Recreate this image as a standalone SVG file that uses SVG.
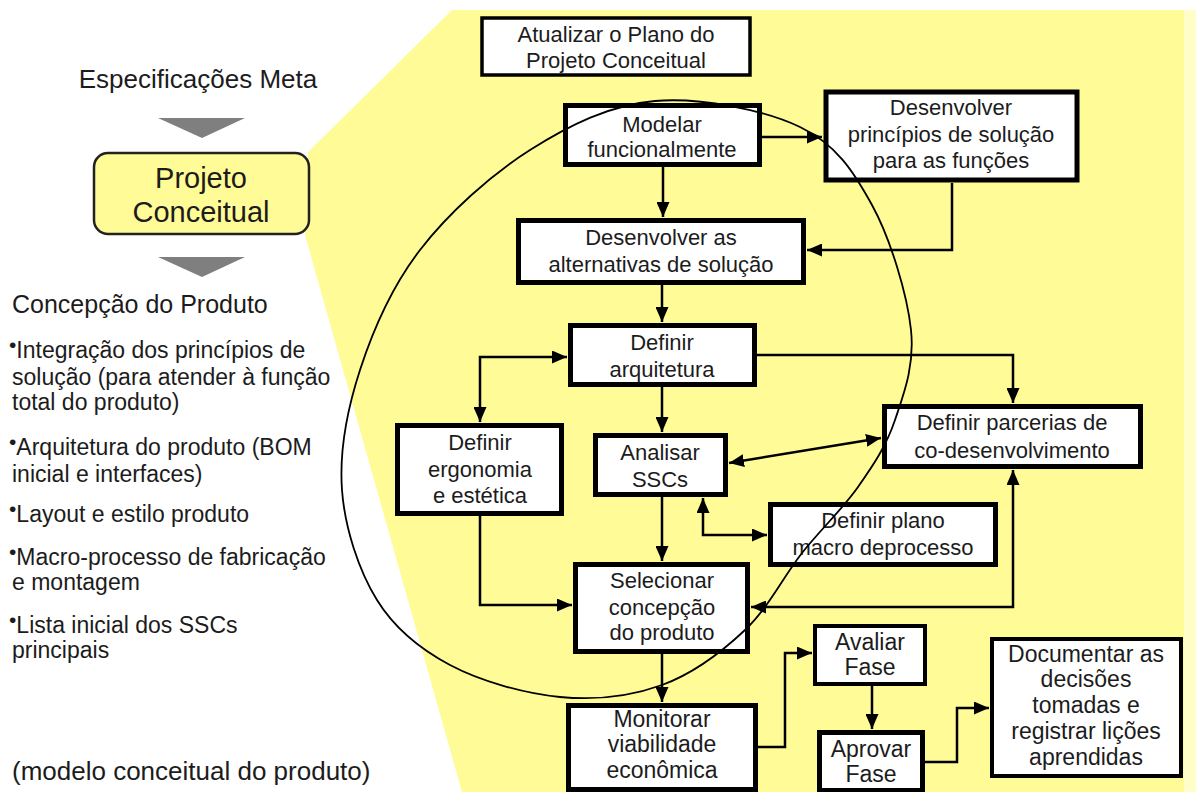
<svg xmlns="http://www.w3.org/2000/svg" width="1198" height="792" viewBox="0 0 1198 792">
  <style>
    text { font-family: "Liberation Sans", Arial, sans-serif; fill: #1c1c1c; }
    .bx { fill: #ffffff; stroke: #000000; stroke-width: 5; }
    .bx4 { fill: #ffffff; stroke: #000000; stroke-width: 4; }
    .t { font-size: 22px; text-anchor: middle; }
    .tb { font-size: 23px; text-anchor: middle; }
    .lft { font-size: 23px; }
    .bul { font-size: 21px; }
    .cn { fill: none; stroke: #000000; stroke-width: 2.5; }
    .tri { fill: #7f7f7f; }
  </style>
  <defs>
    <marker id="arr" markerUnits="userSpaceOnUse" markerWidth="15" markerHeight="13" refX="15" refY="6.5" orient="auto-start-reverse">
      <path d="M0,0 L15,6.5 L0,13 z" fill="#000000"/>
    </marker>
  </defs>

  <rect width="1198" height="792" fill="#ffffff"/>

  <!-- yellow band fanning out from the phase box -->
  <polygon points="452,10 1184,10 1184,792 462,792 305,235 308,152" fill="#fffb96"/>
  <rect x="1184" y="10" width="12" height="782" fill="#fffdc8"/>

  <!-- left column -->
  <g id="spec">
    <text x="198" y="88" font-size="26" text-anchor="middle">Especificações Meta</text>
  </g>
  <polygon class="tri" points="158,118 245,118 202,138"/>
  <g id="phase">
    <rect x="94" y="153" width="215" height="81" rx="14" fill="#fffb96" stroke="#222222" stroke-width="2.5"/>
    <text x="201" y="188" font-size="29" text-anchor="middle">Projeto</text>
    <text x="201" y="222" font-size="29" text-anchor="middle">Conceitual</text>
  </g>
  <polygon class="tri" points="158,257 245,257 202,277"/>
  <g id="outputs">
    <text x="12" y="313" font-size="25">Concepção do Produto</text>
    <text class="lft" x="9" y="358"><tspan class="bul" dy="-6">•</tspan><tspan dy="6">Integração dos princípios de</tspan></text>
    <text class="lft" x="12" y="385">solução (para atender à função</text>
    <text class="lft" x="12" y="410">total do produto)</text>
    <text class="lft" x="9" y="455"><tspan class="bul" dy="-6">•</tspan><tspan dy="6">Arquitetura do produto (BOM</tspan></text>
    <text class="lft" x="12" y="482">inicial e interfaces)</text>
    <text class="lft" x="9" y="522"><tspan class="bul" dy="-6">•</tspan><tspan dy="6">Layout e estilo produto</tspan></text>
    <text class="lft" x="9" y="565"><tspan class="bul" dy="-6">•</tspan><tspan dy="6">Macro-processo de fabricação</tspan></text>
    <text class="lft" x="12" y="590">e montagem</text>
    <text class="lft" x="9" y="633"><tspan class="bul" dy="-6">•</tspan><tspan dy="6">Lista inicial dos SSCs</tspan></text>
    <text class="lft" x="12" y="658">principais</text>
    <text x="12" y="780" font-size="26">(modelo conceitual do produto)</text>
  </g>

  <!-- connectors -->
  <g id="connectors">
    <path class="cn" d="M762,137 H822" marker-end="url(#arr)"/>
    <path class="cn" d="M663,167 V217" marker-end="url(#arr)"/>
    <path class="cn" d="M952,183 V250 H807" marker-end="url(#arr)"/>
    <path class="cn" d="M662,285 V322" marker-end="url(#arr)"/>
    <path class="cn" d="M567,357 H480 V422" marker-start="url(#arr)" marker-end="url(#arr)"/>
    <path class="cn" d="M662,387 V432" marker-end="url(#arr)"/>
    <path class="cn" d="M757,355 H1013 V403" marker-end="url(#arr)"/>
    <path class="cn" d="M729,463 L881,438" marker-start="url(#arr)" marker-end="url(#arr)"/>
    <path class="cn" d="M703,498 V535 H767" marker-start="url(#arr)" marker-end="url(#arr)"/>
    <path class="cn" d="M662,497 V561" marker-end="url(#arr)"/>
    <path class="cn" d="M480,516 V605 H572" marker-end="url(#arr)"/>
    <path class="cn" d="M751,607 H1013 V470" marker-start="url(#arr)" marker-end="url(#arr)"/>
    <path class="cn" d="M662,654 V702" marker-end="url(#arr)"/>
    <path class="cn" d="M758,747 H785 V653 H812" marker-end="url(#arr)"/>
    <path class="cn" d="M872,686 V729" marker-end="url(#arr)"/>
    <path class="cn" d="M925,762 H957 V708 H989" marker-end="url(#arr)"/>
  </g>

  <!-- activity boxes -->
  <g id="atualizar">
    <rect x="482" y="18" width="268" height="57" fill="#ffffff" stroke="#000000" stroke-width="3.5"/>
    <text class="t" x="616" y="42">Atualizar o Plano do</text>
    <text class="t" x="616" y="68">Projeto Conceitual</text>
  </g>
  <g id="modelar">
    <rect class="bx" x="565.5" y="105.5" width="194" height="59"/>
    <text class="t" x="662" y="132">Modelar</text>
    <text class="t" x="662" y="157">funcionalmente</text>
  </g>
  <g id="principios">
    <rect class="bx" x="826" y="92" width="251" height="88" stroke-width="6"/>
    <text class="t" x="951" y="115">Desenvolver</text>
    <text class="t" x="951" y="142">princípios de solução</text>
    <text class="t" x="951" y="168">para as funções</text>
  </g>
  <g id="alternativas">
    <rect class="bx" x="518.5" y="220.5" width="285" height="62"/>
    <text class="t" x="661" y="245">Desenvolver as</text>
    <text class="t" x="661" y="272">alternativas de solução</text>
  </g>
  <g id="arquitetura">
    <rect class="bx" x="570.5" y="325.5" width="184" height="59"/>
    <text class="t" x="662" y="350">Definir</text>
    <text class="t" x="662" y="377">arquitetura</text>
  </g>
  <g id="ergonomia">
    <rect class="bx" x="397.5" y="425.5" width="164" height="88"/>
    <text class="t" x="480" y="450">Definir</text>
    <text class="t" x="480" y="477">ergonomia</text>
    <text class="t" x="480" y="503">e estética</text>
  </g>
  <g id="analisar">
    <rect class="bx" x="595.5" y="435.5" width="130" height="59"/>
    <text class="t" x="660" y="460">Analisar</text>
    <text class="t" x="660" y="487">SSCs</text>
  </g>
  <g id="parcerias">
    <rect class="bx" x="884.5" y="406.5" width="256" height="60"/>
    <text class="t" x="1012" y="430">Definir parcerias de</text>
    <text class="t" x="1012" y="458">co-desenvolvimento</text>
  </g>
  <g id="plano">
    <rect class="bx" x="770.5" y="504.5" width="225" height="60"/>
    <text class="t" x="883" y="528">Definir plano</text>
    <text class="t" x="883" y="555">macro deprocesso</text>
  </g>
  <g id="selecionar">
    <rect class="bx" x="575.5" y="564.5" width="172" height="87"/>
    <text class="t" x="662" y="588">Selecionar</text>
    <text class="t" x="662" y="615">concepção</text>
    <text class="t" x="662" y="640">do produto</text>
  </g>
  <g id="monitorar">
    <rect class="bx" x="568.5" y="705.5" width="187" height="84"/>
    <text class="tb" x="662" y="727">Monitorar</text>
    <text class="tb" x="662" y="752">viabilidade</text>
    <text class="tb" x="662" y="778">econômica</text>
  </g>
  <g id="avaliar">
    <rect class="bx4" x="815" y="626" width="110" height="58"/>
    <text class="tb" x="870" y="650">Avaliar</text>
    <text class="tb" x="870" y="675">Fase</text>
  </g>
  <g id="aprovar">
    <rect class="bx" x="819.5" y="732.5" width="103" height="58"/>
    <text class="tb" x="871" y="757">Aprovar</text>
    <text class="tb" x="871" y="782">Fase</text>
  </g>
  <g id="documentar">
    <rect class="bx4" x="992" y="639" width="189" height="137"/>
    <text class="tb" x="1086" y="662">Documentar as</text>
    <text class="tb" x="1086" y="687">decisões</text>
    <text class="tb" x="1086" y="713">tomadas e</text>
    <text class="tb" x="1086" y="739">registrar lições</text>
    <text class="tb" x="1086" y="765">aprendidas</text>
  </g>

  <!-- hand-drawn loop around the core activities -->
  <path fill="none" stroke="#000000" stroke-width="1.8" d="M655,101 C700,97.2 763.8,109.7 800,127 C836.2,144.3 853.5,171.2 872,205 C890.5,238.8 907.2,294.2 911,330 C914.8,365.8 903.8,393.8 895,420 C886.2,446.2 873.5,464.8 858,487 C842.5,509.2 820.8,529.2 802,553 C783.2,576.8 768.3,608 745,630 C721.7,652 692.8,673.8 662,685 C631.2,696.2 595.3,700.3 560,697 C524.7,693.7 480.5,681.2 450,665 C419.5,648.8 395,629.2 377,600 C359,570.8 344.8,528.3 342,490 C339.2,451.7 347,410 360,370 C373,330 391.7,286.7 420,250 C448.3,213.3 490.8,174.8 530,150 C569.2,125.2 610,104.8 655,101 Z"/>
</svg>
